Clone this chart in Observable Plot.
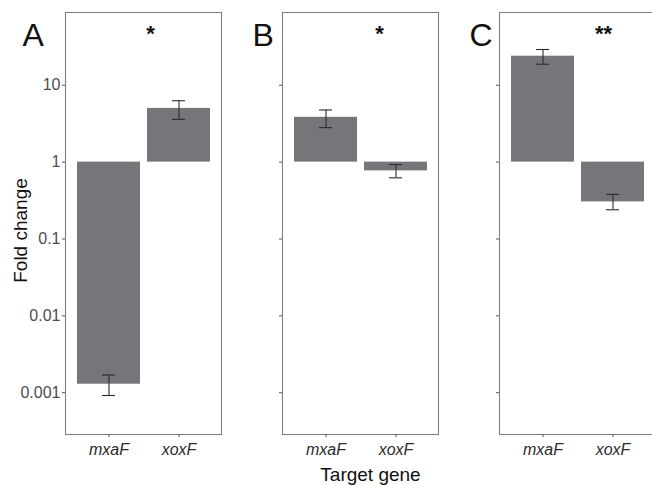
<!DOCTYPE html>
<html>
<head>
<meta charset="utf-8">
<script src="https://cdn.jsdelivr.net/npm/d3@7"></script>
<script src="https://cdn.jsdelivr.net/npm/@observablehq/plot@0.6"></script>
<style>
  html, body { margin: 0; padding: 0; background: #fff; overflow: hidden; }
  #wrap { position: relative; width: 652px; height: 485px; overflow: hidden; font-family: "Liberation Sans", Arial, sans-serif; }
  #wrap > div { position: absolute; top: 0; width: 230px; }
  #wrap svg { max-width: none !important; }
</style>
</head>
<body>
<div id="wrap">
  <div id="pA" style="left:0px"></div>
  <div id="pB" style="left:230px"></div>
  <div id="pC" style="left:447px"></div>
</div>
<script>
// ---- data ----
const genes = ["mxaF", "xoxF"];
const panels = ["A", "B", "C"];
const foldA = [0.00129, 5.0];
const lowA  = [0.00092, 3.6];
const highA = [0.0017, 6.3];
const foldB = [3.83, 0.77];
const lowB  = [2.81, 0.625];
const highB = [4.77, 0.93];
const foldC = [23.9, 0.304];
const lowC  = [18.8, 0.24];
const highC = [29.2, 0.38];
const signif = ["*", "*", "**"];
const yTicks = [0.001, 0.01, 0.1, 1, 10];
const yTickLabels = ["0.001", "0.01", "0.1", "1", "10"];
const yTitle = "Fold change";
const xTitle = "Target gene";
const baseline = 1;

const barFill = "#76767a";
const inkDark = "#2b2b2b";
const tickGrey = "#4d4d4d";
const frameGrey = "#808080";

function panel({letter, fold, low, high, sig, sigDx, showLabels, showXTitle, marginLeft, width}) {
  const rows = genes.map((g, i) => ({gene: g, fold: fold[i], low: low[i], high: high[i], base: baseline}));
  const marks = [
    Plot.barY(rows, {x: "gene", y1: "base", y2: "fold", fill: barFill}),
    Plot.ruleX(rows, {x: "gene", y1: "low", y2: "high", stroke: inkDark, strokeWidth: 1.1}),
    Plot.tickY(rows, {x: "gene", y: "low", stroke: inkDark, strokeWidth: 1.1, insetLeft: 25, insetRight: 25}),
    Plot.tickY(rows, {x: "gene", y: "high", stroke: inkDark, strokeWidth: 1.1, insetLeft: 25, insetRight: 25}),
    Plot.frame({stroke: frameGrey, strokeWidth: 1.1}),
    Plot.axisY({
      ticks: yTicks, tickSize: 3, tickPadding: 2, stroke: "#555",
      fill: tickGrey, fontSize: 16,
      tickFormat: showLabels ? (d => yTickLabels[yTicks.indexOf(d)]) : (() => ""),
      label: null
    }),
    Plot.axisX({
      tickSize: 3, tickPadding: 6, stroke: "#555", fill: inkDark, fontSize: 16,
      fontStyle: "italic", label: null
    }),
    Plot.text([sig], {frameAnchor: "top", dy: 13, dx: sigDx, fontSize: 22, fontWeight: "bold", fill: "#111"}),
    Plot.text([letter], {frameAnchor: "top-left", textAnchor: "start", dx: 22 - marginLeft, dy: 11, fontSize: 32, fill: "#111"})
  ];
  if (showLabels) {
    marks.push(Plot.text([yTitle], {frameAnchor: "left", textAnchor: "middle", rotate: -90, dx: -45, dy: 7, fontSize: 19, fill: "#111"}));
  }
  if (showXTitle) {
    marks.push(Plot.text([xTitle], {frameAnchor: "bottom", dy: 46, dx: 10, fontSize: 19, fill: "#111"}));
  }
  return Plot.plot({
    width, height: 485,
    marginLeft, marginRight: 9, marginTop: 12, marginBottom: 51,
    style: {fontFamily: "'Liberation Sans', Arial, sans-serif", background: "transparent", overflow: "visible", maxWidth: "none"},
    x: {type: "band", domain: genes, paddingInner: 0.1, paddingOuter: 0.15, axis: null},
    y: {type: "log", domain: [0.000286, 88.5], axis: null},
    marks
  });
}

document.getElementById("pA").append(panel({letter: panels[0], fold: foldA, low: lowA, high: highA, sig: signif[0], sigDx: 7, showLabels: true, showXTitle: false, marginLeft: 65, width: 230}));
document.getElementById("pB").append(panel({letter: panels[1], fold: foldB, low: lowB, high: highB, sig: signif[1], sigDx: 19, showLabels: false, showXTitle: true, marginLeft: 52, width: 217}));
document.getElementById("pC").append(panel({letter: panels[2], fold: foldC, low: lowC, high: highC, sig: signif[2], sigDx: 26, showLabels: false, showXTitle: false, marginLeft: 52, width: 217}));
</script>
</body>
</html>
